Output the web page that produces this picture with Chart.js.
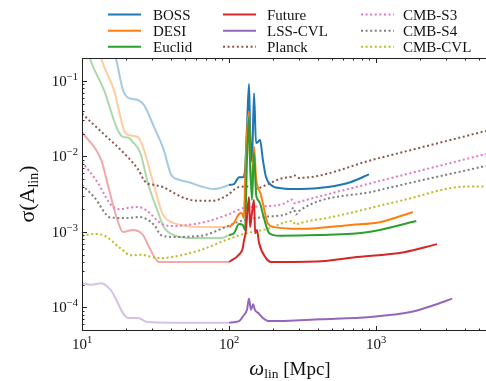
<!DOCTYPE html>
<html>
<head>
<meta charset="utf-8">
<script src="https://cdn.jsdelivr.net/npm/chart.js@4.4.1/dist/chart.umd.min.js"></script>
<style>
html, body { margin: 0; padding: 0; background: #fff; overflow: hidden; }
</style>
</head>
<body>
<canvas id="chart" width="486" height="381"></canvas>
<script>
const seriesNames = ['BOSS', 'DESI', 'Euclid', 'Future', 'LSS-CVL', 'Planck', 'CMB-S3', 'CMB-S4', 'CMB-CVL']
const seriesColors = ['#1f77b4', '#ff7f0e', '#2ca02c', '#d62728', '#9467bd', '#8c564b', '#e377c2', '#7f7f7f', '#bcbd22']
const xTicks = [10, 100, 1000]
const xTickExp = ['1', '2', '3']
const yTicks = [1e-4, 1e-3, 1e-2, 1e-1]
const yTickExp = ['\u22124', '\u22123', '\u22122', '\u22121']
const omegaSplit = 100 // below this the survey curves are faded

// [omega_lin, sigma(A_lin)]
const boss = [[10, 3], [14, 0.6], [17, 0.2], [19, 0.076], [20.6, 0.06], [24, 0.056], [26.4, 0.048], [30.9, 0.0246],
  [36, 0.0122], [40.3, 0.0058], [46, 0.0049], [52.6, 0.0046], [65, 0.004], [79, 0.0037], [90, 0.0039], [100, 0.0042],
  [108, 0.0043], [117, 0.0053], [124, 0.0053], [128.5, 0.0066], [132.5, 0.0246], [136.8, 0.091], [139, 0.0246],
  [143.3, 0.0085], [148, 0.069], [152.6, 0.0151], [157.5, 0.0156], [162.5, 0.0166], [170, 0.009], [178.5, 0.00535],
  [193, 0.0042], [226, 0.0038], [309, 0.0037], [471, 0.00395], [676, 0.0046], [896, 0.0058]]
const desi = [[10, 3], [13.5, 0.2], [16.5, 0.076], [19.3, 0.0224], [20.6, 0.0193], [24, 0.018], [26.4, 0.0122],
  [29.5, 0.0057], [32.9, 0.00265], [35.6, 0.00168], [40.3, 0.00136], [47, 0.00124], [64.5, 0.00116], [100, 0.00116],
  [108, 0.00132], [117, 0.00173], [122, 0.00179], [126, 0.00153], [130, 0.009], [136.8, 0.039], [139, 0.009],
  [143.3, 0.00395], [148, 0.0134], [152.6, 0.0053], [157.5, 0.0038], [162.5, 0.0034], [170, 0.0024], [183, 0.00132],
  [203, 0.00116], [309, 0.0011], [676, 0.00124], [1080, 0.00136], [1780, 0.00184]]
const euclid = [[10, 0.5], [11.3, 0.2], [14.1, 0.076], [17.5, 0.0224], [19, 0.0182], [20.6, 0.0178], [22.2, 0.0155],
  [25, 0.011], [28, 0.0045], [33, 0.0018], [36, 0.00116], [42, 0.00091], [58, 0.00083], [88, 0.00083], [100, 0.00091],
  [108, 0.00096], [117, 0.00128], [124, 0.00124], [128.5, 0.00106], [132.5, 0.009], [136.8, 0.0334], [139, 0.009],
  [143.3, 0.00265], [148, 0.0111], [152.6, 0.0033], [157.5, 0.00265], [162.5, 0.0024], [172, 0.00158], [188, 0.00096],
  [220, 0.00089], [400, 0.00091], [890, 0.001], [1880, 0.0014]]
const future = [[10, 0.021], [13.5, 0.009], [15, 0.0042], [17, 0.00168], [19, 0.001], [22.2, 0.00106], [26, 0.00091],
  [28.6, 0.00063], [33.4, 0.0004], [60, 0.0004], [100, 0.0004], [117, 0.0005], [124, 0.00061], [126, 0.00074],
  [130, 0.001], [136.8, 0.0029], [139, 0.00116], [143.3, 0.00179], [148, 0.00265], [150.6, 0.00096], [155, 0.00106],
  [160, 0.00072], [178.5, 0.00045], [193, 0.0004], [423, 0.00041], [700, 0.00046], [1550, 0.00054], [2600, 0.00069]]
const lssCvl = [[10, 0.00021], [11.5, 0.0002], [13.5, 0.00021], [15.7, 0.00017], [20.6, 0.0000726], [24, 0.0000726],
  [28, 0.000064], [40, 0.000063], [100, 0.000063], [117, 0.000066], [126, 0.000079], [132.5, 0.000093],
  [136.8, 0.000131], [141, 0.000093], [146, 0.00011], [150, 0.000093], [157.5, 0.000085], [170, 0.0000726],
  [187, 0.000066], [423, 0.00007], [920, 0.000075], [1720, 0.000087], [2360, 0.000104], [3300, 0.000131]]
const planck = [[10, 0.037], [14, 0.02], [20.5, 0.0098], [24, 0.0068], [27, 0.0046], [31, 0.0042], [36, 0.0039],
  [42, 0.0033], [50, 0.0028], [60, 0.0026], [78, 0.0026], [98, 0.0031], [115, 0.0039], [134, 0.004], [150, 0.0037],
  [183, 0.0043], [226, 0.0051], [265, 0.0054], [280, 0.0056], [300, 0.0052], [1000, 0.0093], [5600, 0.0218]]
const cmbS3 = [[10, 0.0085], [12.8, 0.0045], [15.7, 0.0023], [17.9, 0.002], [21, 0.0021], [24, 0.00214],
  [27.2, 0.00196], [34.5, 0.0013], [40, 0.0012], [64.5, 0.00132], [98.5, 0.0017], [128, 0.0021], [183, 0.0022],
  [240, 0.0024], [265, 0.0027], [280, 0.0024], [300, 0.0025], [1000, 0.0046], [5600, 0.0108]]
const cmbS4 = [[10, 0.0042], [12.1, 0.0029], [15.7, 0.00155], [20.6, 0.00153], [24.4, 0.00158], [31, 0.00124],
  [34.5, 0.00091], [42, 0.00086], [64.5, 0.00089], [98.5, 0.0012], [121, 0.0014], [183, 0.0016], [260, 0.0018],
  [275, 0.0021], [285, 0.0017], [300, 0.0019], [1000, 0.0035], [5600, 0.0075]]
const cmbCvl = [[10, 0.0009], [12, 0.00094], [14.1, 0.0009], [18.4, 0.0006], [21.5, 0.00049], [25, 0.0005],
  [29.5, 0.00047], [34.5, 0.00045], [42, 0.00047], [64.5, 0.00058], [98.5, 0.0008], [128, 0.00095], [183, 0.0011],
  [270, 0.0014], [285, 0.00125], [300, 0.0013], [520, 0.0016], [1480, 0.0026], [4200, 0.004], [5600, 0.004]]

const surveys = [boss, desi, euclid, future, lssCvl]
const cmbs = [planck, cmbS3, cmbS4, cmbCvl]
const serif = '"Liberation Serif", "DejaVu Serif", serif'

const toPoints = arr => arr.map(([x, y]) => ({ x, y }))
const fade = (hex, a) => {
  const n = parseInt(hex.slice(1), 16)
  return `rgba(${n >> 16},${(n >> 8) & 255},${n & 255},${a})`
}

const datasets = []
surveys.forEach((arr, i) => {
  datasets.push({
    label: seriesNames[i] + ' (faded)',
    data: toPoints(arr.filter(p => p[0] <= omegaSplit)),
    borderColor: fade(seriesColors[i], 0.4),
  })
})
cmbs.forEach((arr, j) => {
  datasets.push({
    label: seriesNames[5 + j],
    data: toPoints(arr),
    borderColor: seriesColors[5 + j],
    borderDash: [2, 2.6],
  })
})
surveys.forEach((arr, i) => {
  datasets.push({
    label: seriesNames[i],
    data: toPoints(arr.filter(p => p[0] >= omegaSplit)),
    borderColor: seriesColors[i],
  })
})
datasets.forEach((d, i) => {
  d.order = -i
  d.showLine = true
  d.borderWidth = 2
  d.pointRadius = 0
  d.clip = 0
  d.cubicInterpolationMode = 'monotone'
})

function drawPow(ctx, exp, x, y, align) {
  ctx.font = '15px ' + serif
  const w1 = ctx.measureText('10').width
  ctx.font = '10.5px ' + serif
  const w2 = ctx.measureText(exp).width
  const x0 = align === 'right' ? x - w1 - w2 : x - (w1 + w2) / 2
  ctx.textAlign = 'left'
  ctx.font = '15px ' + serif
  ctx.fillText('10', x0, y)
  ctx.font = '10.5px ' + serif
  ctx.fillText(exp, x0 + w1, y - 6)
}

const axesPlugin = {
  id: 'axes',
  afterDraw(chart) {
    const { ctx, chartArea: a, scales: { x, y } } = chart
    ctx.save()
    ctx.strokeStyle = '#222'
    ctx.fillStyle = '#111'
    ctx.lineWidth = 1
    ctx.beginPath()
    ctx.moveTo(a.right, a.top + 0.5); ctx.lineTo(a.left + 0.5, a.top + 0.5)
    ctx.lineTo(a.left + 0.5, a.bottom - 0.5); ctx.lineTo(a.right, a.bottom - 0.5)
    ctx.stroke()

    // inward log ticks
    ctx.beginPath()
    for (let d = 1; d <= 3; d++) {
      for (let k = 1; k <= 9; k++) {
        const v = k * Math.pow(10, d)
        if (v < x.min || v > x.max) continue
        const px = Math.round(x.getPixelForValue(v)) + 0.5
        const len = k === 1 ? 5 : 2.5
        ctx.moveTo(px, a.bottom); ctx.lineTo(px, a.bottom - len)
        ctx.moveTo(px, a.top); ctx.lineTo(px, a.top + len)
      }
    }
    for (let d = -5; d <= -1; d++) {
      for (let k = 1; k <= 9; k++) {
        const v = k * Math.pow(10, d)
        if (v < y.min || v > y.max) continue
        const py = Math.round(y.getPixelForValue(v)) + 0.5
        const len = k === 1 ? 5 : 2.5
        ctx.moveTo(a.left, py); ctx.lineTo(a.left + len, py)
      }
    }
    ctx.stroke()

    ctx.textBaseline = 'alphabetic'
    xTicks.forEach((v, i) => drawPow(ctx, xTickExp[i], x.getPixelForValue(v), a.bottom + 18, 'center'))
    yTicks.forEach((v, i) => drawPow(ctx, yTickExp[i], a.left - 4, y.getPixelForValue(v) + 5, 'right'))

    // x title: omega_lin [Mpc]
    ctx.font = 'italic 21px ' + serif
    const wW = ctx.measureText('\u03c9').width
    ctx.font = '13.5px ' + serif
    const wL = ctx.measureText('lin').width
    ctx.font = '19px ' + serif
    const wM = ctx.measureText(' [Mpc]').width
    const tx = 290 - (wW + wL + wM) / 2
    const ty = 375
    ctx.font = 'italic 21px ' + serif
    ctx.fillText('\u03c9', tx, ty)
    ctx.font = '13.5px ' + serif
    ctx.fillText('lin', tx + wW, ty + 3)
    ctx.font = '19px ' + serif
    ctx.fillText(' [Mpc]', tx + wW + wL, ty)

    // y title: sigma(A_lin)
    ctx.save()
    ctx.translate(34, 194)
    ctx.rotate(-Math.PI / 2)
    ctx.font = '22px ' + serif
    const s1 = ctx.measureText('\u03c3(A').width
    const s3 = ctx.measureText(')').width
    ctx.font = '14px ' + serif
    const s2 = ctx.measureText('lin').width
    const sx = -(s1 + s2 + s3) / 2
    ctx.font = '22px ' + serif
    ctx.fillText('\u03c3(A', sx, 0)
    ctx.font = '14px ' + serif
    ctx.fillText('lin', sx + s1, 4)
    ctx.font = '22px ' + serif
    ctx.fillText(')', sx + s1 + s2, 0)
    ctx.restore()

    // legend, three columns
    const colLine = [108, 223, 361]
    const colText = [153, 267, 403]
    const rowY = [14.5, 30.7, 46.8]
    ctx.font = '15px ' + serif
    seriesNames.forEach((name, i) => {
      const c = Math.floor(i / 3), r = i % 3
      ctx.strokeStyle = seriesColors[i]
      ctx.lineWidth = 2
      ctx.setLineDash(i >= 5 ? [2, 2.6] : [])
      ctx.beginPath()
      ctx.moveTo(colLine[c], rowY[r]); ctx.lineTo(colLine[c] + 33, rowY[r])
      ctx.stroke()
      ctx.fillStyle = '#111'
      ctx.fillText(name, colText[c], rowY[r] + 5)
    })
    ctx.restore()
  }
}

new Chart('chart', {
  type: 'scatter',
  data: { datasets },
  options: {
    responsive: false,
    animation: false,
    layout: { padding: { left: 82, top: 58, right: 0, bottom: 50 } },
    plugins: { legend: { display: false }, tooltip: { enabled: false } },
    scales: {
      x: { type: 'logarithmic', min: 10, max: 5600, display: false },
      y: { type: 'logarithmic', min: 4.88e-5, max: 0.2016, display: false },
    },
  },
  plugins: [axesPlugin],
})
</script>
</body>
</html>
